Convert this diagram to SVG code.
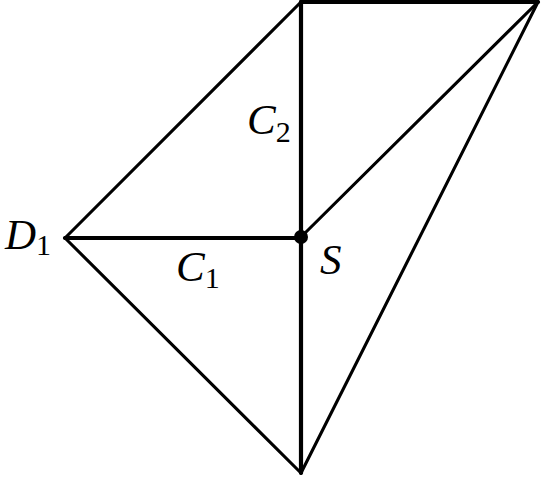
<svg xmlns="http://www.w3.org/2000/svg" width="541" height="480" viewBox="0 0 541 480">
<style>
.e{stroke:#000;fill:none;stroke-linecap:round;stroke-linejoin:round}
.t{stroke-width:4.2}
.d{stroke-width:3.1}
.l{font-family:"Liberation Serif",serif;font-style:italic;font-size:43px;fill:#000}
.s{font-family:"Liberation Serif",serif;font-style:normal;font-size:30px}
</style>
<rect width="541" height="480" fill="#fff"/>
<g id="connectors">
<line class="e d" x1="65" y1="238" x2="301" y2="2"/>
<line class="e t" x1="301" y1="2" x2="538" y2="2"/>
<line class="e t" x1="301" y1="2" x2="301" y2="473"/>
<line class="e d" x1="301" y1="237" x2="538" y2="2"/>
<line class="e t" x1="65" y1="238" x2="301" y2="238"/>
<line class="e d" x1="65" y1="238" x2="301" y2="473"/>
<line class="e d" x1="301" y1="473" x2="538" y2="2"/>
</g>
<g id="S"><circle cx="301" cy="237" r="7" fill="#000"/><text class="l" x="320" y="274">S</text></g>
<g id="D1"><text class="l" x="5" y="249">D<tspan class="s" dy="6">1</tspan></text></g>
<g id="C1"><text class="l" x="176" y="281">C<tspan class="s" dy="7">1</tspan></text></g>
<g id="C2"><text class="l" x="247" y="134">C<tspan class="s" dy="8">2</tspan></text></g>
</svg>
